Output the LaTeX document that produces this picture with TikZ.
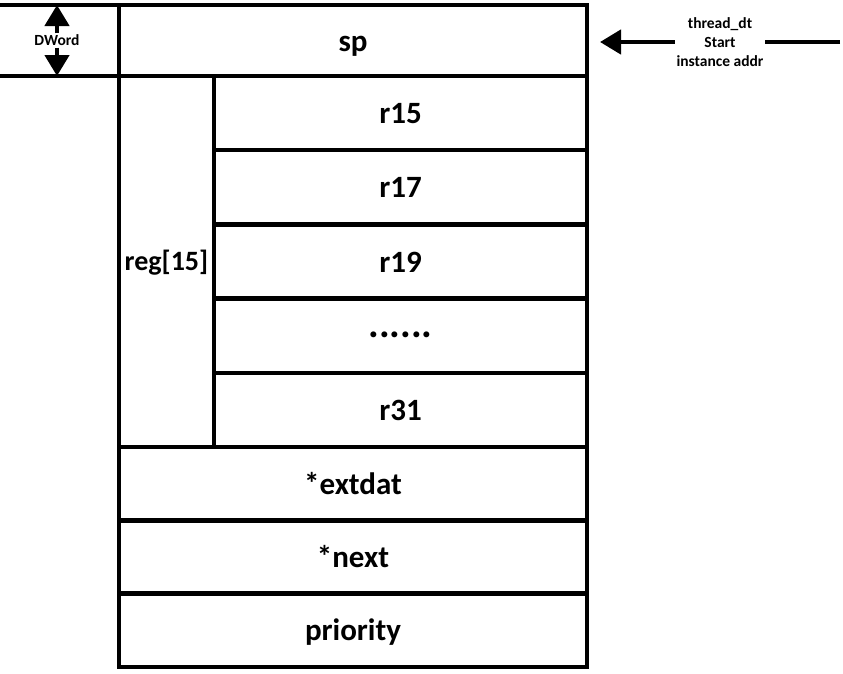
\documentclass[tikz,border=0pt]{standalone}
\usepackage{fontspec}
\setmainfont{Carlito}
\usetikzlibrary{arrows.meta,positioning}

\begin{document}
\begin{tikzpicture}[
x=1pt, y=-1pt,
every node/.style={font=\bfseries},
cell/.style={draw, line width=4.5pt, outer sep=0pt, inner sep=0pt, text height=22pt, text depth=1pt, font=\bfseries\fontsize{31}{36}\selectfont},
wide/.style={cell, minimum width=468pt},
reg/.style={cell, minimum width=373pt, minimum height=74.2pt},
tail/.style={wide, minimum height=73.3pt},
note/.style={fill=white, inner sep=1.5pt, align=center, font=\bfseries\fontsize{15.5}{19}\selectfont},
line/.style={line width=4.5pt},
arrow/.style={line width=4.5pt, -{Triangle[width=24pt, length=21pt]}}
]
\useasboundingbox (0,0) rectangle (843,673);

% sp at the top
\node[wide, minimum height=71pt] (sp) at (353,40.5) {sp};

% reg[15] column and its registers
\node[cell, minimum width=95pt, minimum height=371pt, text height=19pt, font=\bfseries\fontsize{28}{34}\selectfont, below right=0pt of sp.south west] (regs) {reg[15]};
\node[reg, anchor=north west] (r15) at (regs.north east) {r15};
\node[reg, below=0pt of r15] (r17) {r17};
\node[reg, below=0pt of r17] (r19) {r19};
\node[reg, below=0pt of r19, text height=5pt, font=\bfseries\fontsize{40}{40}\selectfont] (dots) {......};
\node[reg, below=0pt of dots] (r31) {r31};

% remaining fields
\node[tail, anchor=north west] (extdat) at (regs.south west) {*extdat};
\node[tail, below=0pt of extdat] (next) {*next};
\node[tail, below=0pt of next] (prio) {priority};

% DWord size mark
\coordinate (dtop) at (0,5);
\coordinate (dbot) at (0,76);
\draw[line] (sp.north west) -- (dtop);
\draw[line] (sp.south west) -- (dbot);
\node[note] (dword) at (57,40.5) {DWord};
\draw[arrow] (dword) -- (57,5);
\draw[arrow] (dword) -- (57,76);

% start address pointer
\coordinate (far) at (840,42);
\coordinate (tip) at (600,42);
\node[note] (addr) at (720,42) {thread\_dt\\Start\\instance addr};
\draw[line] (far) -- (addr);
\draw[arrow] (addr) -- (tip);

\end{tikzpicture}
\end{document}
